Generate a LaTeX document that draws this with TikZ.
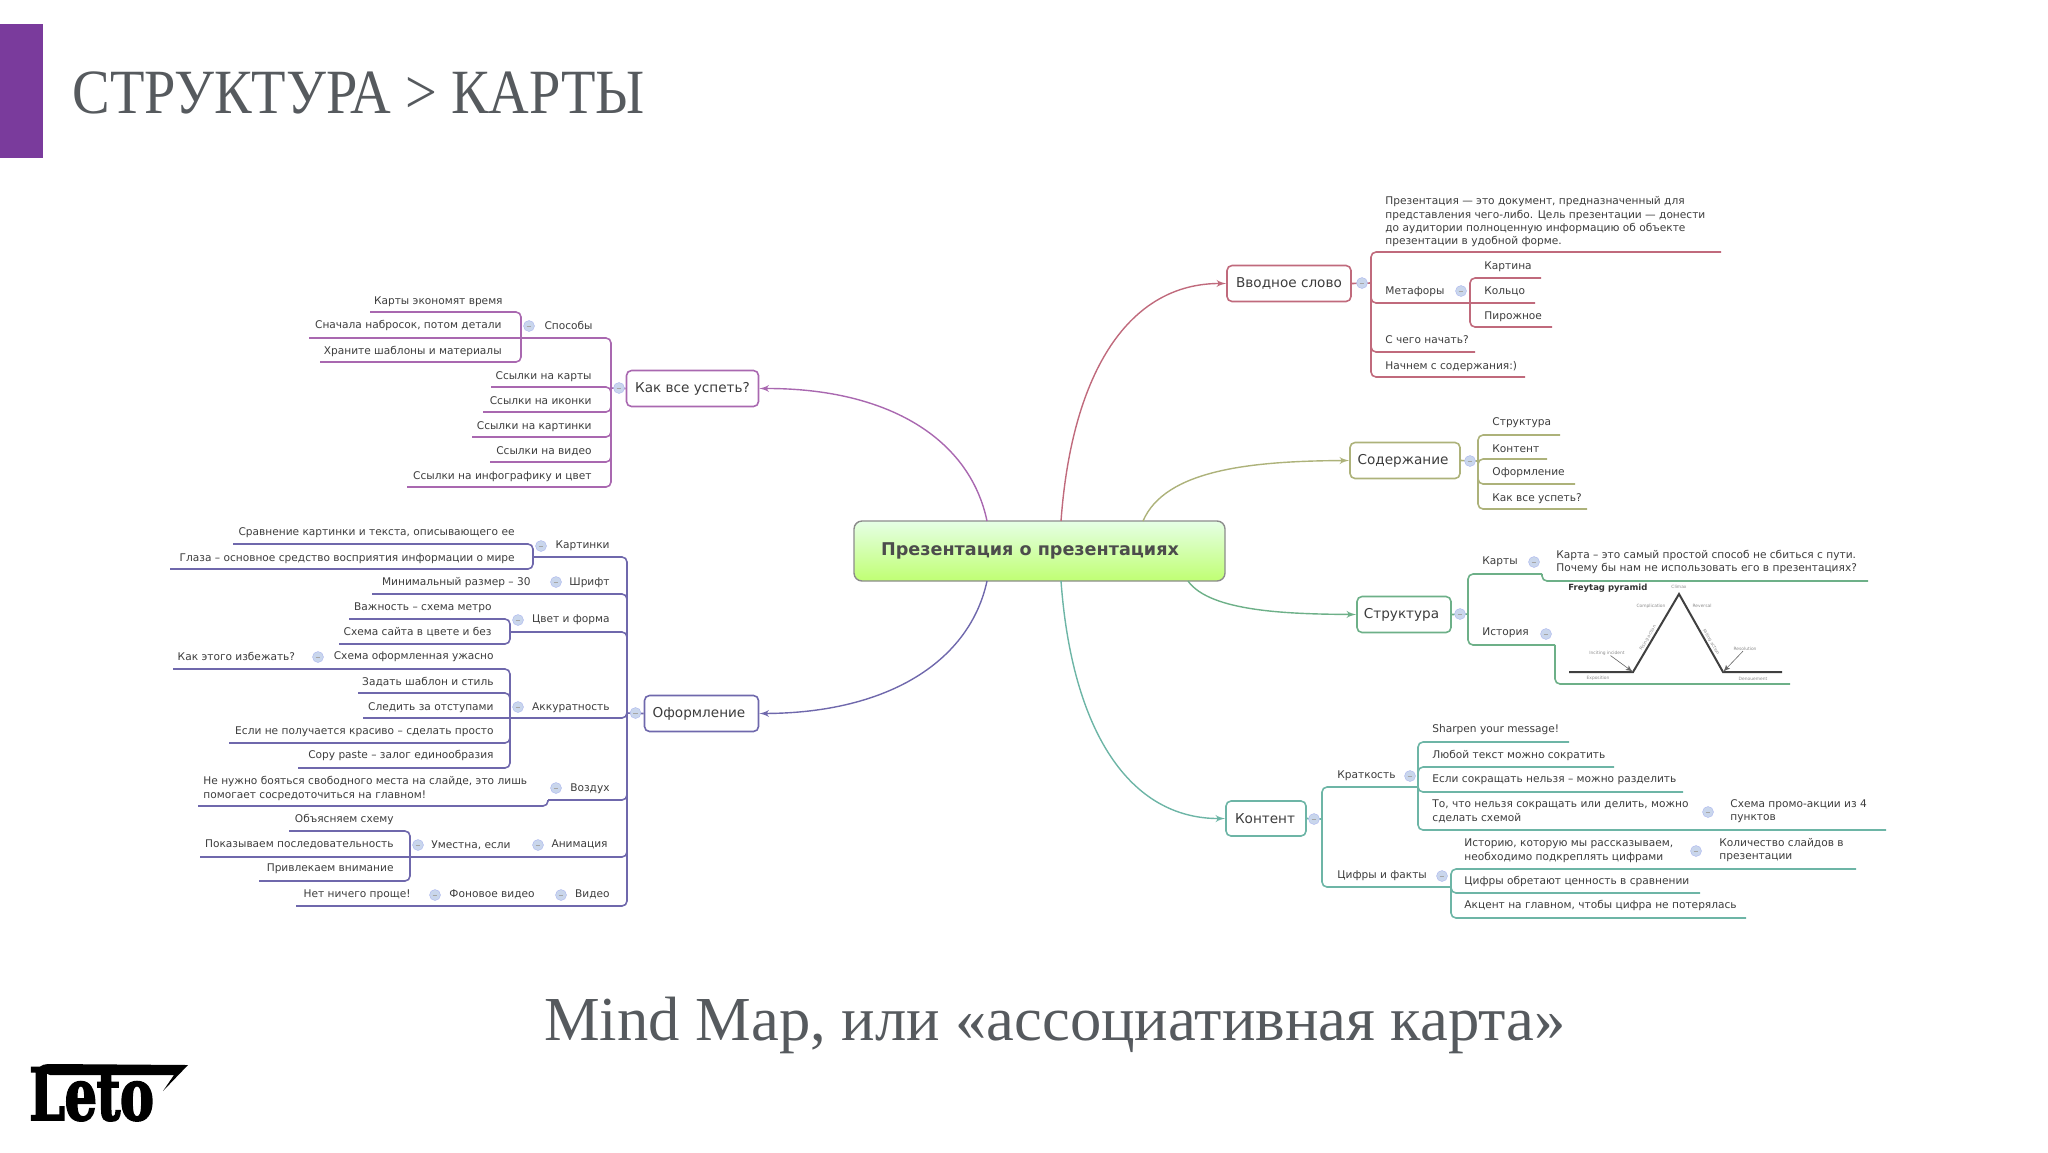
\documentclass[tikz,border=0pt]{standalone}
\usepackage{fontspec}
\usepackage{tikz}
\usetikzlibrary{arrows}
\setmainfont{DejaVu Sans}
\newfontfamily\slidefont{Liberation Serif}
\newfontfamily\headfont[FakeStretch=0.895]{Liberation Serif}
\newfontfamily\logofont[FakeStretch=0.7,FakeBold=2.5]{DejaVu Serif}
\definecolor{slidepurple}{HTML}{7A3B9C}
\definecolor{slidetext}{HTML}{565A5E}
\definecolor{leaftext}{HTML}{3C3C3C}
\definecolor{redline}{HTML}{C06A7C}
\definecolor{oliveline}{HTML}{ADB27A}
\definecolor{greenline}{HTML}{6DB088}
\definecolor{tealline}{HTML}{6DB5A6}
\definecolor{pinkline}{HTML}{A968B0}
\definecolor{violetline}{HTML}{6F68AC}
\definecolor{dotfill}{HTML}{C9D6EC}
\tikzset{
  slidetitle/.style={inner sep=0,text=slidetext,font=\slidefont\fontsize{31.3}{38}\selectfont},
  leaf/.style={inner sep=0,yshift=-0.4pt,text=leaftext,align=left,font=\fontsize{5.3}{6.7}\selectfont},
  leafl/.style={leaf,anchor=west},
  leafr/.style={leaf,anchor=east,align=right},
  topic/.style={draw,rounded corners=2.5,line width=0.8,inner sep=0,text=leaftext,font=\fontsize{6.8}{8}\selectfont},
  dot/.style={circle,fill=dotfill,draw=dotfill!85!blue,line width=0.2,inner sep=0,minimum size=5.5,
    path picture={\draw[line width=0.3,black!35] ([xshift=-1.2pt]path picture bounding box.center) -- ([xshift=1.2pt]path picture bounding box.center);}},
  curve/.style={line width=0.7,-latex'},
  rib/.style={line width=0.8,rounded corners=2.5},
  tiny/.style={inner sep=0,text=black!45,font=\fontsize{2.2}{3}\selectfont},
}
\begin{document}
\begin{tikzpicture}[x=0.5pt,y=-0.5pt]
\useasboundingbox (0,0) rectangle (2048,1152);

\fill[slidepurple] (0,24) rectangle (43,158);
\node[slidetitle,anchor=west,font=\headfont\fontsize{31.5}{38}\selectfont] (heading) at (72,93) {СТРУКТУРА > КАРТЫ};
\node[slidetitle] (caption) at (1055,1025) {Mind Map, или «ассоциативная карта»};
\node[inner sep=0,anchor=base west,font=\logofont\bfseries\fontsize{36}{38}\selectfont] (logo) at (29,1120) {Leto};
\fill (38,1070) .. controls (40,1064) and (46,1064) .. (52,1064) -- (188,1065) -- (163,1091) -- (174,1075) -- (50,1075) -- cycle;

\node[draw=black!45,rounded corners=4,line width=0.7,top color=green!10!white,bottom color=green!45!yellow!55!white,minimum width=185.5,minimum height=30,inner sep=0,text=black!70,font=\bfseries\fontsize{8.8}{10}\selectfont] (root) at (1039.5,551) {Презентация о презентациях\kern9.5pt};

\coordinate (rootred) at (1061,521);
\coordinate (rootteal) at (1061,581);
\coordinate (rootpink) at (987,521);
\coordinate (rootviolet) at (987,581);
\coordinate (rootolive) at (1143,521);
\coordinate (rootgreen) at (1188,581);

\node[topic,draw=redline,minimum width=62,minimum height=18] (intro) at (1289,283.5) {Вводное слово};
\node[topic,draw=oliveline,minimum width=55,minimum height=18] (contents) at (1405,460.5) {Содержание\kern2pt};
\node[topic,draw=greenline,minimum width=47,minimum height=18] (structure) at (1404,614.5) {Структура\kern2.5pt};
\node[topic,draw=tealline,minimum width=40,minimum height=17.5] (content) at (1266,818.5) {Контент\kern1pt};
\node[topic,draw=pinkline,minimum width=66,minimum height=18] (hurry) at (692.5,388.5) {Как все успеть?};
\node[topic,draw=violetline,minimum width=57,minimum height=18] (design) at (701.5,713.5) {Оформление\kern2.5pt};

\draw[curve,redline] (rootred) .. controls (1072,370) and (1130,283) .. (intro.west);
\draw[curve,oliveline] (rootolive) .. controls (1165,470) and (1250,461) .. (contents.west);
\draw[curve,greenline] (rootgreen) .. controls (1210,612) and (1290,614) .. (structure.west);
\draw[curve,tealline] (rootteal) .. controls (1072,732) and (1130,819) .. (content.west);
\draw[curve,pinkline] (rootpink) .. controls (970,440) and (890,388) .. (hurry.east);
\draw[curve,violetline] (rootviolet) .. controls (970,660) and (890,713) .. (design.east);

\coordinate (introhub) at (1371,283);
\coordinate (intro1) at (1721,252);
\coordinate (intro2) at (1535,303);
\coordinate (intro3) at (1475,352);
\coordinate (intro4) at (1525,377);
\coordinate (metahub) at (1470,303);
\coordinate (meta1) at (1541,278);
\coordinate (meta2) at (1552,327);
\draw[rib,redline] (intro.east) -- (introhub);
\draw[rib,redline] (introhub) |- (intro1);
\draw[rib,redline] (introhub) |- (intro2);
\draw[rib,redline] (introhub) |- (intro3);
\draw[rib,redline] (introhub) |- (intro4);
\draw[rib,redline] (metahub) |- (meta1);
\draw[rib,redline] (metahub) |- (meta2);
\node[dot] (introdot) at (1362,283) {};
\node[dot] (metadot) at (1461,291) {};
\node[leafl] (definition) at (1385,221) {Презентация — это документ, предназначенный для\\представления чего-либо. Цель презентации — донести\\до аудитории полноценную информацию об объекте\\презентации в удобной форме.};
\node[leafl] (metaphors) at (1385,291) {Метафоры};
\node[leafl] (picture) at (1484,266) {Картина};
\node[leafl] (ring) at (1484,291) {Кольцо};
\node[leafl] (cake) at (1484,316) {Пирожное};
\node[leafl] (start) at (1385,339) {С чего начать?};
\node[leafl] (begin) at (1385,366) {Начнем с содержания:)};

\coordinate (contentshub) at (1478,461);
\coordinate (contents1) at (1560,435);
\coordinate (contents2) at (1547,459);
\coordinate (contents3) at (1575,484);
\coordinate (contents4) at (1587,509);
\draw[rib,oliveline] (contents.east) -- (contentshub);
\draw[rib,oliveline] (contentshub) |- (contents1);
\draw[rib,oliveline] (contentshub) |- (contents2);
\draw[rib,oliveline] (contentshub) |- (contents3);
\draw[rib,oliveline] (contentshub) |- (contents4);
\node[dot] (contentsdot) at (1470,461) {};
\node[leafl] (itemstructure) at (1492,422) {Структура};
\node[leafl] (itemcontent) at (1492,448) {Контент};
\node[leafl] (itemdesign) at (1492,472) {Оформление};
\node[leafl] (itemhurry) at (1492,498) {Как все успеть?};

\coordinate (structurehub) at (1468,614);
\coordinate (maps1) at (1542,574);
\coordinate (maps2) at (1868,581);
\coordinate (story1) at (1555,645);
\coordinate (story2) at (1790,684);
\draw[rib,greenline] (structure.east) -- (structurehub);
\draw[rib,greenline] (structurehub) |- (maps1);
\draw[rib,greenline] (structurehub) |- (story1);
\draw[rib,greenline] (maps1) |- (maps2);
\draw[rib,greenline] (story1) |- (story2);
\node[dot] (structuredot) at (1460,614) {};
\node[dot] (mapsdot) at (1534,562) {};
\node[dot] (storydot) at (1546,634) {};
\node[leafl] (maps) at (1482,561) {Карты};
\node[leafl] (story) at (1482,632) {История};
\node[leafl] (mapstext) at (1556,561) {Карта – это самый простой способ не сбиться с пути.\\Почему бы нам не использовать его в презентациях?};

\coordinate (py1) at (1569,672);
\coordinate (py2) at (1633,672);
\coordinate (py3) at (1679,594);
\coordinate (py4) at (1723,672);
\coordinate (py5) at (1782,672);
\draw[line width=1,black!75] (py1) -- (py2) -- (py3) -- (py4) -- (py5);
\node[inner sep=0,anchor=west,text=black!80,font=\bfseries\fontsize{4.25}{5}\selectfont] (freytag) at (1568,588) {Freytag pyramid};
\node[tiny] (climax) at (1679,587) {Climax};
\node[tiny] (complication) at (1651,606) {Complication};
\node[tiny] (reversal) at (1702,606) {Reversal};
\node[tiny,rotate=60] (rising) at (1648,638) {Rising action};
\node[tiny,rotate=-60] (falling) at (1711,642) {Falling action};
\node[tiny] (inciting) at (1607,653) {Inciting incident};
\node[tiny] (resolution) at (1745,649) {Resolution};
\node[tiny] (exposition) at (1598,678) {Exposition};
\node[tiny] (denouement) at (1753,679) {Denouement};
\draw[line width=0.3,-latex',black!60] (inciting) -- (py2);
\draw[line width=0.3,-latex',black!60] (resolution) -- (py4);

\coordinate (contenthub) at (1322,819);
\coordinate (short) at (1418,787);
\coordinate (numbers) at (1451,887);
\coordinate (short1) at (1569,742);
\coordinate (short2) at (1614,767);
\coordinate (short3) at (1683,792);
\coordinate (short4) at (1886,830);
\coordinate (numbers1) at (1856,869);
\coordinate (numbers2) at (1700,893);
\coordinate (numbers3) at (1746,918);
\draw[rib,tealline] (content.east) -- (contenthub);
\draw[rib,tealline] (contenthub) |- (short);
\draw[rib,tealline] (contenthub) |- (numbers);
\draw[rib,tealline] (short) |- (short1);
\draw[rib,tealline] (short) |- (short2);
\draw[rib,tealline] (short) |- (short3);
\draw[rib,tealline] (short) |- (short4);
\draw[rib,tealline] (numbers) |- (numbers1);
\draw[rib,tealline] (numbers) |- (numbers2);
\draw[rib,tealline] (numbers) |- (numbers3);
\node[dot] (contentdot) at (1314,819) {};
\node[dot] (shortdot) at (1410,776) {};
\node[dot] (numbersdot) at (1442,876) {};
\node[dot] (schemedot) at (1708,812) {};
\node[dot] (storynumdot) at (1696,851) {};
\node[leafl] (brevity) at (1337,775) {Краткость};
\node[leafl] (facts) at (1337,875) {Цифры и факты};
\node[leafl] (sharpen) at (1432,729) {Sharpen your message!};
\node[leafl] (anytext) at (1432,755) {Любой текст можно сократить};
\node[leafl] (split) at (1432,779) {Если сокращать нельзя – можно разделить};
\node[leafl] (asscheme) at (1432,810.5) {То, что нельзя сокращать или делить, можно\\сделать схемой};
\node[leafl] (promo) at (1730,810.5) {Схема промо-акции из 4\\пунктов};
\node[leafl] (tale) at (1464,850) {Историю, которую мы рассказываем,\\необходимо подкреплять цифрами};
\node[leafl] (slides) at (1719,849.5) {Количество слайдов в\\презентации};
\node[leafl] (compare) at (1464,881) {Цифры обретают ценность в сравнении};
\node[leafl] (accent) at (1464,905) {Акцент на главном, чтобы цифра не потерялась};

\coordinate (hurryhub) at (611,388);
\coordinate (ways) at (521,338);
\coordinate (ways1) at (370,312);
\coordinate (ways2) at (309,338);
\coordinate (ways3) at (320,362);
\coordinate (hurry1) at (491,387);
\coordinate (hurry2) at (483,412);
\coordinate (hurry3) at (472,437);
\coordinate (hurry4) at (490,462);
\coordinate (hurry5) at (407,487);
\draw[rib,pinkline] (hurry.west) -- (hurryhub);
\draw[rib,pinkline] (hurryhub) |- (ways2);
\draw[rib,pinkline] (hurryhub) |- (hurry1);
\draw[rib,pinkline] (hurryhub) |- (hurry2);
\draw[rib,pinkline] (hurryhub) |- (hurry3);
\draw[rib,pinkline] (hurryhub) |- (hurry4);
\draw[rib,pinkline] (hurryhub) |- (hurry5);
\draw[rib,pinkline] (ways) |- (ways1);
\draw[rib,pinkline] (ways) |- (ways3);
\node[dot] (hurrydot) at (619,388) {};
\node[dot] (waysdot) at (529,326) {};
\node[leafr] (waystext) at (593,325) {Способы};
\node[leafr] (saves) at (503,301) {Карты экономят время};
\node[leafr] (sketch) at (502,325) {Сначала набросок, потом детали};
\node[leafr] (keep) at (502,351) {Храните шаблоны и материалы};
\node[leafr] (linkmaps) at (592,376) {Ссылки на карты};
\node[leafr] (linkicons) at (592,400) {Ссылки на иконки};
\node[leafr] (linkpics) at (592,426) {Ссылки на картинки};
\node[leafr] (linkvideo) at (592,450) {Ссылки на видео};
\node[leafr] (linkinfo) at (592,476) {Ссылки на инфографику и цвет};

\coordinate (designhub) at (627,713);
\coordinate (pics) at (533,557);
\coordinate (pics1) at (233,544);
\coordinate (pics2) at (170,569);
\coordinate (fonts) at (372,594);
\coordinate (colors) at (510,632);
\coordinate (colors1) at (349,619);
\coordinate (colors2) at (339,644);
\coordinate (neat) at (510,718);
\coordinate (neat0) at (363,718);
\coordinate (neat1) at (173,669);
\coordinate (neat2) at (358,693);
\coordinate (neat3) at (229,743);
\coordinate (neat4) at (298,768);
\coordinate (air) at (548,800);
\coordinate (air1) at (198,806);
\coordinate (anim) at (410,857);
\coordinate (anim0) at (200,857);
\coordinate (anim1) at (289,831);
\coordinate (anim2) at (259,881);
\coordinate (video) at (296,906);
\draw[rib,violetline] (design.west) -- (designhub);
\draw[rib,violetline] (designhub) |- (pics);
\draw[rib,violetline] (designhub) |- (fonts);
\draw[rib,violetline] (designhub) |- (colors);
\draw[rib,violetline] (designhub) |- (neat0);
\draw[rib,violetline] (designhub) |- (air);
\draw[rib,violetline] (designhub) |- (anim0);
\draw[rib,violetline] (designhub) |- (video);
\draw[rib,violetline] (pics) |- (pics1);
\draw[rib,violetline] (pics) |- (pics2);
\draw[rib,violetline] (colors) |- (colors1);
\draw[rib,violetline] (colors) |- (colors2);
\draw[rib,violetline] (neat) |- (neat1);
\draw[rib,violetline] (neat) |- (neat2);
\draw[rib,violetline] (neat) |- (neat3);
\draw[rib,violetline] (neat) |- (neat4);
\draw[rib,violetline] (air) |- (air1);
\draw[rib,violetline] (anim) |- (anim1);
\draw[rib,violetline] (anim) |- (anim2);
\node[dot] (designdot) at (635.5,713) {};
\node[dot] (picsdot) at (541,546) {};
\node[dot] (fontsdot) at (556,582) {};
\node[dot] (colorsdot) at (518,620) {};
\node[dot] (neatdot) at (518,707) {};
\node[dot] (avoiddot) at (318,657) {};
\node[dot] (airdot) at (556,788) {};
\node[dot] (animdot) at (538,845) {};
\node[dot] (whendot) at (418,845) {};
\node[dot] (videodot) at (561,895) {};
\node[dot] (bgdot) at (435,895) {};
\node[leafr] (picstext) at (610,545) {Картинки};
\node[leafr] (compareimg) at (515,532) {Сравнение картинки и текста, описывающего ее};
\node[leafr] (eyes) at (515,558) {Глаза – основное средство восприятия информации о мире};
\node[leafr] (fontstext) at (610,582) {Шрифт};
\node[leafr] (minsize) at (531,582) {Минимальный размер – 30};
\node[leafr] (colorstext) at (610,619) {Цвет и форма};
\node[leafr] (metro) at (492,607) {Важность – схема метро};
\node[leafr] (site) at (492,631) {Схема сайта в цвете и без};
\node[leafr] (neattext) at (610,707) {Аккуратность};
\node[leafr] (avoid) at (295.5,656) {Как этого избежать?};
\node[leafr] (ugly) at (494,656) {Схема оформленная ужасно};
\node[leafr] (setstyle) at (494,681) {Задать шаблон и стиль};
\node[leafr] (indents) at (494,706.5) {Следить за отступами};
\node[leafr] (simple) at (494,731) {Если не получается красиво – сделать просто};
\node[leafr] (copypaste) at (494,755) {Copy paste – залог единообразия};
\node[leafr] (airtext) at (610,788) {Воздух};
\node[leafl] (space) at (203,787.5) {Не нужно бояться свободного места на слайде, это лишь\\помогает сосредоточиться на главном!};
\node[leafr] (animtext) at (608,844) {Анимация};
\node[leafr] (when) at (511,844) {Уместна, если};
\node[leafr] (explain) at (394,819) {Объясняем схему};
\node[leafr] (sequence) at (394,844) {Показываем последовательность};
\node[leafr] (attract) at (394,868) {Привлекаем внимание};
\node[leafr] (videotext) at (610,894) {Видео};
\node[leafr] (background) at (535,894) {Фоновое видео};
\node[leafr] (easy) at (411,894) {Нет ничего проще!};
\end{tikzpicture}
\end{document}
